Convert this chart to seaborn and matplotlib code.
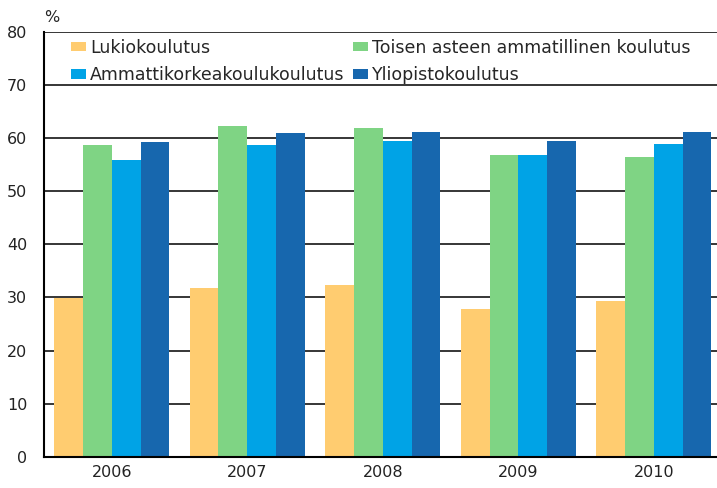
import pandas as pd
import numpy as np
import matplotlib
matplotlib.use('Agg')
import matplotlib.pyplot as plt
import seaborn as sns

years = ['2006', '2007', '2008', '2009', '2010']
series = ['Lukiokoulutus', 'Toisen asteen ammatillinen koulutus',
          'Ammattikorkeakoulukoulutus', 'Yliopistokoulutus']
lukio = [29.9, 31.8, 32.4, 27.8, 29.3]
toinen = [58.7, 62.2, 61.9, 56.8, 56.5]
amk = [55.8, 58.7, 59.5, 56.8, 58.9]
yliopisto = [59.2, 61.0, 61.2, 59.5, 61.2]
colors = ['#FFCC70', '#7FD484', '#00A3E6', '#1767AE']

df = pd.DataFrame({
    'year': years * 4,
    'series': np.repeat(series, len(years)),
    'value': lukio + toinen + amk + yliopisto,
})

sns.set_style('white')
plt.rcParams['font.family'] = ['DejaVu Sans']

fig = plt.figure(figsize=(7.17, 4.88), dpi=100)
ax = fig.add_axes([0.0614, 0.064, 0.945, 0.871])

sns.barplot(data=df, x='year', y='value', hue='series', hue_order=series,
            palette=colors, width=0.85, saturation=1, ax=ax, zorder=2,
            edgecolor='none')

ax.set_ylim(0, 80)
ax.set_yticks(range(0, 81, 10))
ax.set_xlim(-0.5, 4.5)
ax.grid(axis='y', color='black', linewidth=1.1, zorder=0)
ax.set_axisbelow(True)
ax.set_xlabel('')
ax.set_ylabel('')
for s in ['top', 'right']:
    ax.spines[s].set_visible(False)
for s in ['left', 'bottom']:
    ax.spines[s].set_color('black')
    ax.spines[s].set_linewidth(1.5)
ax.tick_params(axis='both', length=0, labelsize=11.5, colors='#222222', pad=6)
ax.tick_params(axis='y', pad=12)
ax.text(0.0, 1.015, '%', transform=ax.transAxes, fontsize=11.5, ha='left', va='bottom')

# legend fills column-wise, so reorder to match the reference rows
handles, labels = ax.get_legend_handles_labels()
order = [0, 2, 1, 3]
ax.legend([handles[i] for i in order], [labels[i] for i in order], ncol=2,
          loc='upper left', bbox_to_anchor=(0.022, 1.012), frameon=False,
          fontsize=12.5, handlelength=0.86, handleheight=0.46, handletextpad=0.25,
          labelspacing=0.55, columnspacing=0.45, borderaxespad=0.3)

plt.savefig('out.png', dpi=100)
